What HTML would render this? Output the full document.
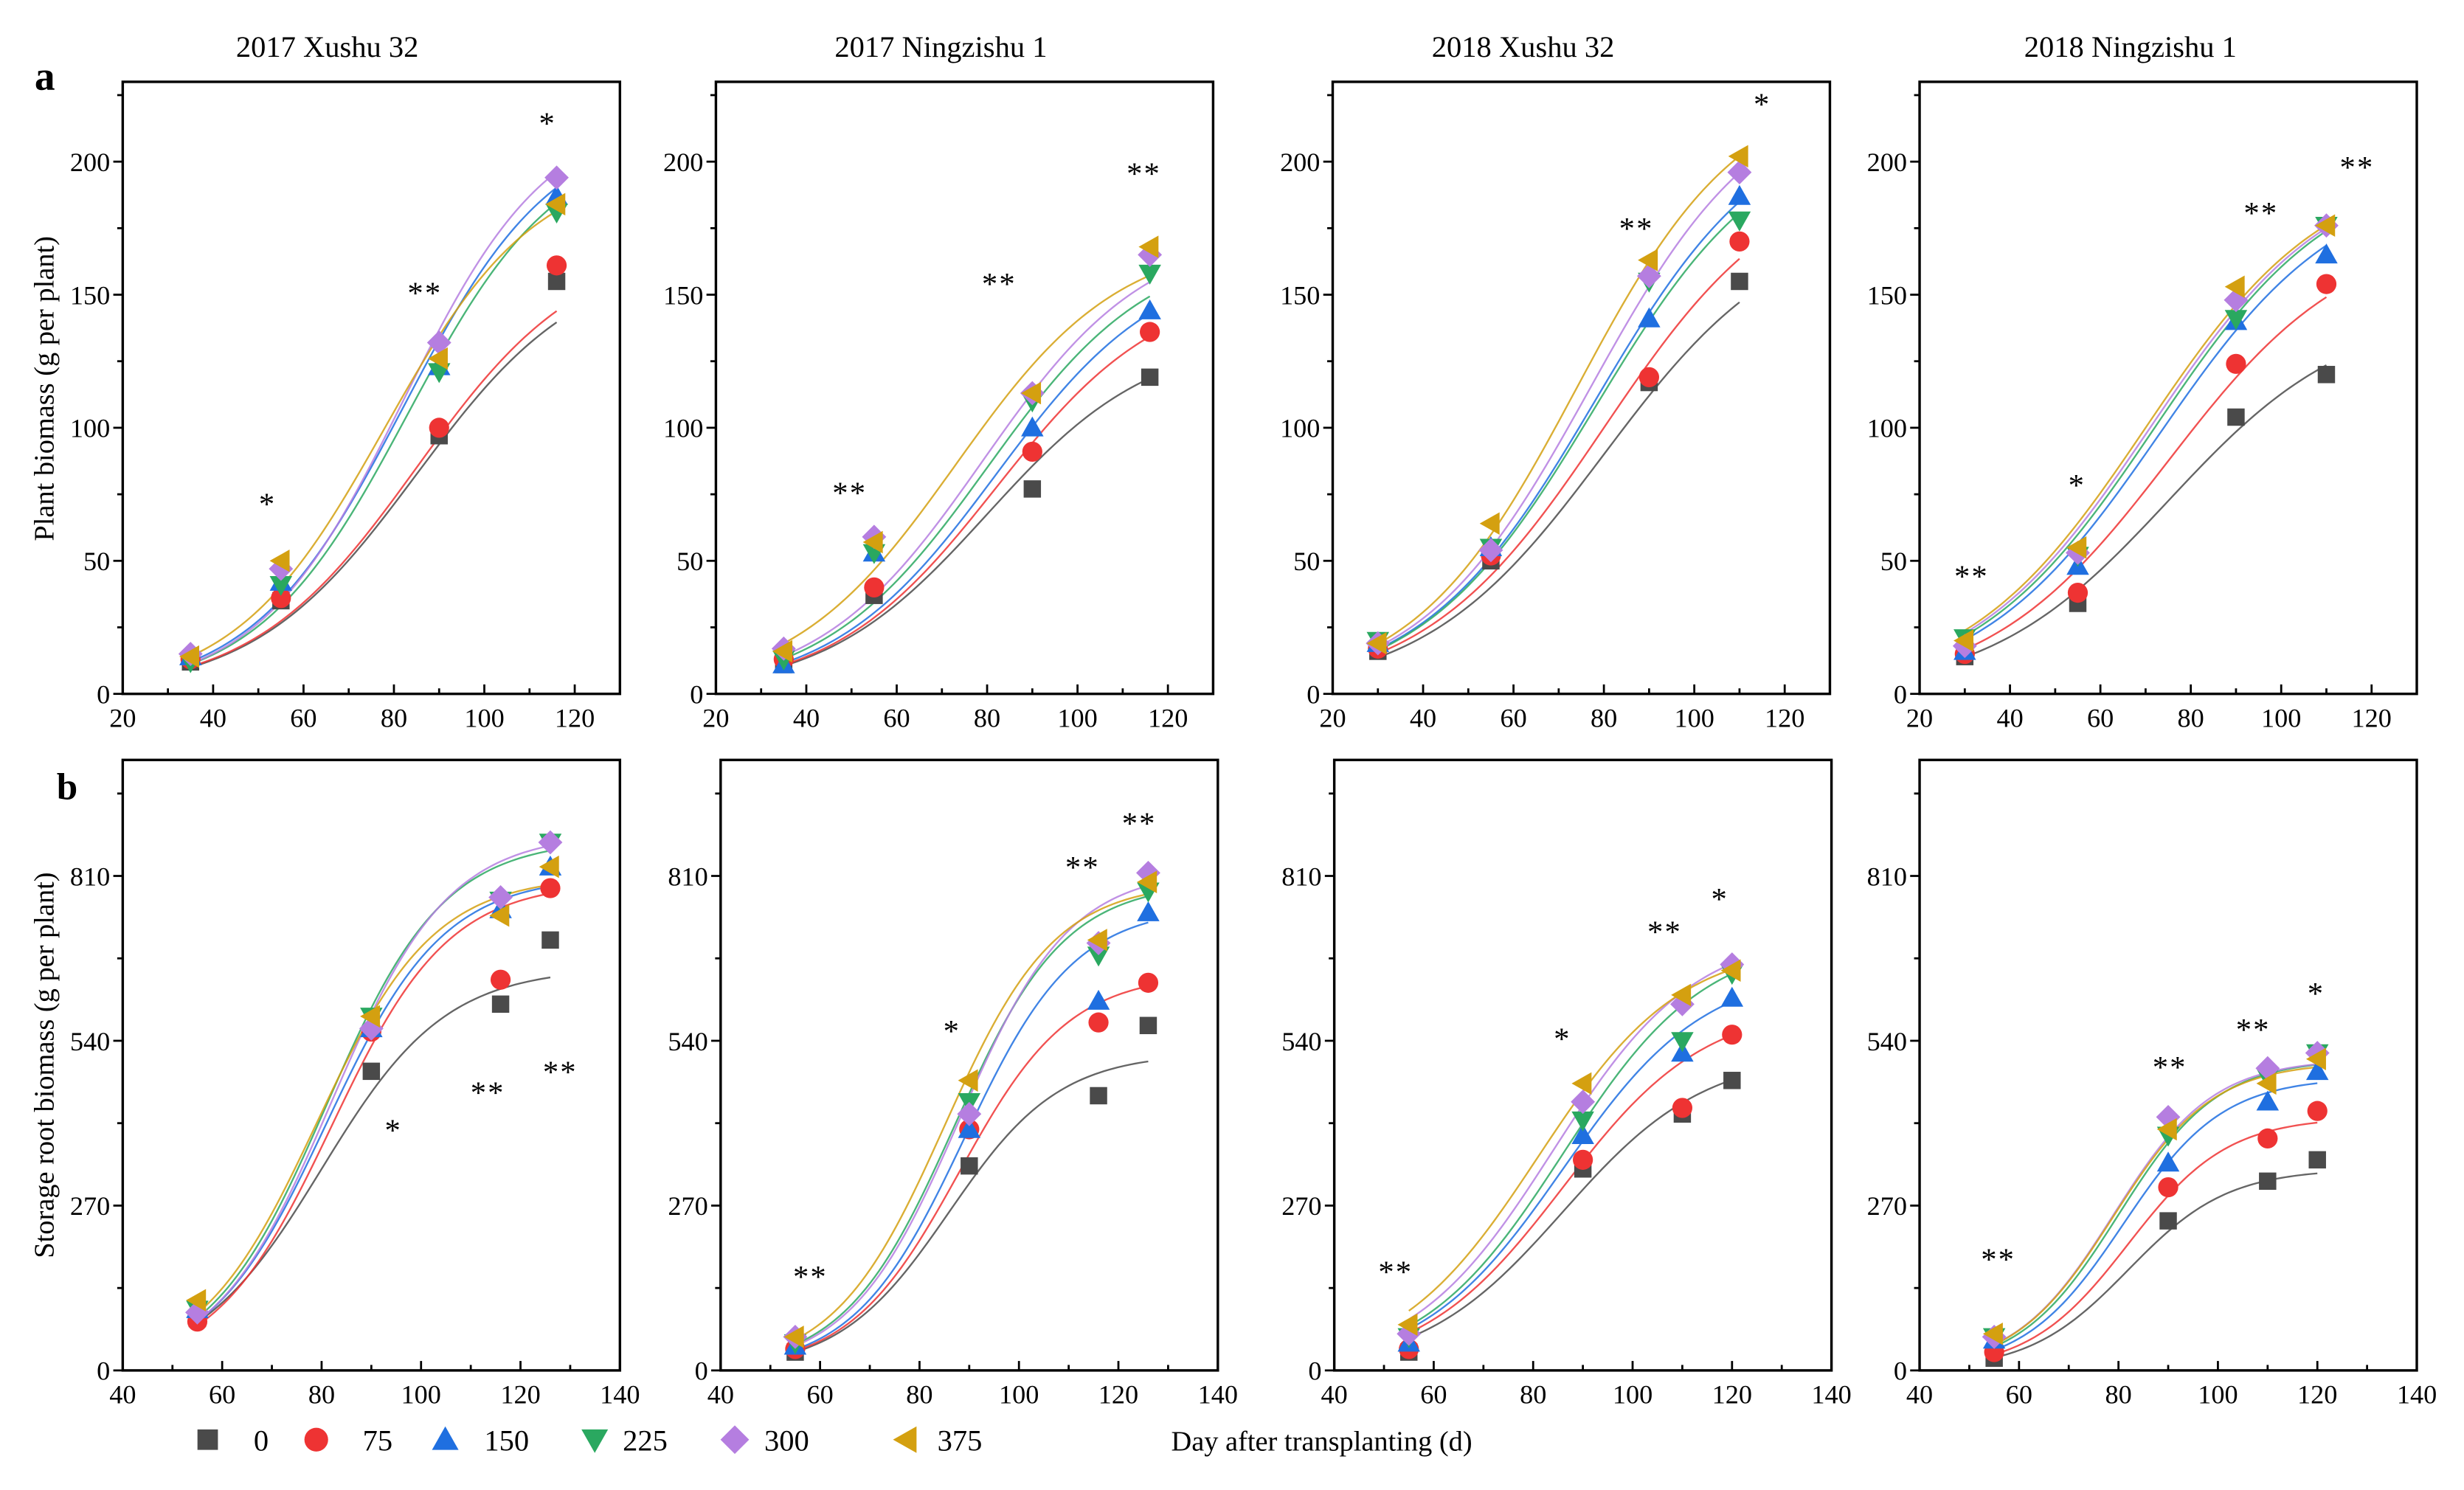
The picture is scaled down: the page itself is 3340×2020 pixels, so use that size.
<!DOCTYPE html>
<html><head><meta charset="utf-8"><style>
html,body{margin:0;padding:0;background:#fff;}
svg{display:block;font-family:"Liberation Serif",serif;}
</style></head><body>
<svg id="fig" width="3340" height="2020" viewBox="0 0 1566 947" preserveAspectRatio="none" xmlns="http://www.w3.org/2000/svg">
<rect x="0" y="0" width="1566" height="947" fill="#fff"/>
<text x="208" y="36" font-size="19" text-anchor="middle">2017  Xushu 32</text>
<text x="598" y="36" font-size="19" text-anchor="middle">2017  Ningzishu 1</text>
<text x="968" y="36" font-size="19" text-anchor="middle">2018  Xushu 32</text>
<text x="1354" y="36" font-size="19" text-anchor="middle">2018  Ningzishu 1</text>
<text x="22" y="57" font-size="26" font-weight="bold">a</text>
<text x="36" y="508" font-size="24" font-weight="bold">b</text>
<text transform="translate(34,247) rotate(-90)" font-size="18" text-anchor="middle">Plant biomass (g per plant)</text>
<text transform="translate(34,677) rotate(-90)" font-size="18" text-anchor="middle">Storage root biomass (g per plant)</text>
<text x="840" y="922" font-size="18" text-anchor="middle">Day after transplanting (d)</text>
<g id="plots"></g>
<g id="legend"></g>
</svg>
<script>
const seriesNames = ["0","75","150","225","300","375"];
const colors = ["#4a4a4a","#ee3333","#1f6fe0","#2aa860","#b57ee0","#d4a010"];
const shapes = ["square","circle","up","down","diamond","left"];

const daysP1 = [35,55,90,116];
const valsP1 = [[12,35,97,155],[13,36,100,161],[14,42,123,187],[12,41,121,181],[15,47,132,194],[14,50,126,184]];
const fitP1 = [[165,85,.055],[170,85,.055],[215,82,.06],[210,83,.06],[220,82,.062],[200,78,.06]];
const daysP2 = [35,55,90,116];
const valsP2 = [[11,37,77,119],[13,40,91,136],[11,53,100,144],[13,53,110,158],[17,59,113,165],[16,57,113,168]];
const fitP2 = [[135,80,.055],[155,82,.055],[165,82,.055],[170,80,.055],[175,79,.055],[172,73,.055]];
const daysP3 = [30,55,90,110];
const valsP3 = [[16,50,117,155],[17,52,119,170],[19,55,141,187],[20,55,155,178],[19,54,157,196],[19,64,163,202]];
const fitP3 = [[180,80,.05],[200,80,.05],[220,78,.052],[215,78,.052],[230,77,.053],[230,74,.055]];
const daysP4 = [30,55,90,110];
const valsP4 = [[14,34,104,120],[15,38,124,154],[16,48,140,165],[21,52,141,176],[18,53,148,176],[20,55,153,176]];
const fitP4 = [[145,75,.05],[175,75,.05],[195,73,.05],[200,72,.05],[200,71,.05],[200,70,.05]];
const daysB1 = [55,90,116,126];
const valsB1 = [[85,490,600,705],[80,555,640,790],[100,560,755,825],[100,580,770,865],[95,560,775,865],[115,580,745,825]];
const fitB1 = [[660,80,.08],[800,82,.085],[810,81,.085],[870,81,.085],[880,82,.085],[810,79,.085]];
const daysB2 = [55,90,116,126];
const valsB2 = [[30,335,450,565],[35,395,570,635],[40,395,605,750],[45,440,680,785],[55,420,700,815],[55,475,705,800]];
const fitB2 = [[520,86,.09],[650,88,.09],[760,89,.09],[800,87,.09],[820,88,.09],[800,85,.09]];
const daysB3 = [55,90,110,120];
const valsB3 = [[30,330,420,475],[35,345,430,550],[45,385,520,610],[55,410,540,650],[60,440,600,665],[75,470,615,655]];
const fitB3 = [[520,86,.07],[600,86,.07],[660,86,.07],[710,86,.07],[720,84,.07],[700,81,.07]];
const daysB4 = [55,90,110,120];
const valsB4 = [[20,245,310,345],[30,300,380,425],[50,340,440,490],[55,385,480,520],[55,415,495,520],[60,395,470,510]];
const fitB4 = [[330,82,.1],[415,82,.1],[480,81,.1],[510,80,.1],[510,79,.1],[505,79,.1]];

const topTicksY = [0,50,100,150,200];
const botTicksY = [0,270,540,810];
const topTicksX = [20,40,60,80,100,120];
const botTicksX = [40,60,80,100,120,140];

const panels = [
 {name:"p1",L:78,T:52,B:441,x0:20,x1:130,y1:230,days:daysP1,vals:valsP1,fit:fitP1,yt:topTicksY,xt:topTicksX,ym:25,xm:10,
  stars:[[170,327,"*"],[270,193,"**"],[348,85,"*"]]},
 {name:"p2",L:455,T:52,B:441,x0:20,x1:130,y1:230,days:daysP2,vals:valsP2,fit:fitP2,yt:topTicksY,xt:topTicksX,ym:25,xm:10,
  stars:[[540,320,"**"],[635,187,"**"],[727,117,"**"]]},
 {name:"p3",L:847,T:52,B:441,x0:20,x1:130,y1:230,days:daysP3,vals:valsP3,fit:fitP3,yt:topTicksY,xt:topTicksX,ym:25,xm:10,
  stars:[[1040,152,"**"],[1120,73,"*"]]},
 {name:"p4",L:1220,T:52,B:441,x0:20,x1:130,y1:230,days:daysP4,vals:valsP4,fit:fitP4,yt:topTicksY,xt:topTicksX,ym:25,xm:10,
  stars:[[1253,373,"**"],[1320,315,"*"],[1437,142,"**"],[1498,113,"**"]]},
 {name:"b1",L:78,T:483,B:871,x0:40,x1:140,y1:1000,days:daysB1,vals:valsB1,fit:fitB1,yt:botTicksY,xt:botTicksX,ym:135,xm:10,
  stars:[[250,725,"*"],[310,701,"**"],[356,688,"**"]]},
 {name:"b2",L:458,T:483,B:871,x0:40,x1:140,y1:1000,days:daysB2,vals:valsB2,fit:fitB2,yt:botTicksY,xt:botTicksX,ym:135,xm:10,
  stars:[[515,818,"**"],[605,662,"*"],[688,558,"**"],[724,530,"**"]]},
 {name:"b3",L:848,T:483,B:871,x0:40,x1:140,y1:1000,days:daysB3,vals:valsB3,fit:fitB3,yt:botTicksY,xt:botTicksX,ym:135,xm:10,
  stars:[[887,815,"**"],[993,667,"*"],[1058,599,"**"],[1093,578,"*"]]},
 {name:"b4",L:1220,T:483,B:871,x0:40,x1:140,y1:1000,days:daysB4,vals:valsB4,fit:fitB4,yt:botTicksY,xt:botTicksX,ym:135,xm:10,
  stars:[[1270,807,"**"],[1379,685,"**"],[1432,661,"**"],[1472,638,"*"]]}
];
const W = 316;
const NS = "http://www.w3.org/2000/svg";
const root = document.getElementById("plots");
function mk(tag, attrs, parent){const e=document.createElementNS(NS,tag);for(const k in attrs)e.setAttribute(k,attrs[k]);parent.appendChild(e);return e;}
function marker(shape,cx,cy,s,col,parent){
  let e;
  if(shape==="square") e=mk("rect",{x:cx-s*0.5,y:cy-s*0.5,width:s,height:s,fill:col},parent);
  else if(shape==="circle") e=mk("circle",{cx:cx,cy:cy,r:s*0.58,fill:col},parent);
  else { let pts;
    if(shape==="up") pts=[[cx,cy-s*0.65],[cx+s*0.65,cy+s*0.5],[cx-s*0.65,cy+s*0.5]];
    else if(shape==="down") pts=[[cx,cy+s*0.65],[cx+s*0.65,cy-s*0.5],[cx-s*0.65,cy-s*0.5]];
    else if(shape==="diamond") pts=[[cx,cy-s*0.7],[cx+s*0.7,cy],[cx,cy+s*0.7],[cx-s*0.7,cy]];
    else pts=[[cx-s*0.65,cy],[cx+s*0.5,cy-s*0.65],[cx+s*0.5,cy+s*0.65]];
    e=mk("polygon",{points:pts.map(p=>p.join(",")).join(" "),fill:col},parent);}
  return e;
}
panels.forEach(p=>{
  const g=mk("g",{},root);
  
  
  const sx=v=>p.L+(v-p.x0)/(p.x1-p.x0)*W;
  const sy=v=>p.B-v/p.y1*(p.B-p.T);
  for(let v=0; v<=p.y1; v+=p.ym){
    const major=p.yt.includes(v);
    mk("line",{x1:p.L-(major?6:3.5),x2:p.L,y1:sy(v),y2:sy(v),stroke:"#000","stroke-width":1.3},g);
  }
  p.yt.forEach(v=>{const t=mk("text",{x:p.L-8,y:sy(v)+6,"font-size":17,"text-anchor":"end"},g);t.textContent=v;
    
    });
  for(let v=p.x0; v<=p.x1; v+=p.xm){
    const major=p.xt.includes(v);
    mk("line",{x1:sx(v),x2:sx(v),y1:p.B,y2:p.B-(major?6:3.5),stroke:"#000","stroke-width":1.3},g);
  }
  p.xt.forEach(v=>{const t=mk("text",{x:sx(v),y:p.B+21,"font-size":17,"text-anchor":"middle"},g);t.textContent=v;
    
    });
  p.fit.forEach((f,i)=>{
    const d0=p.days[0], d1=p.days[p.days.length-1];
    let d="";
    for(let k=0;k<=80;k++){const t=d0+(d1-d0)*k/80;const y=f[0]/(1+Math.exp(-f[2]*(t-f[1])));
      d+=(k?"L":"M")+sx(t).toFixed(2)+","+sy(y).toFixed(2);}
    const c=mk("path",{d:d,fill:"none",stroke:colors[i],"stroke-width":1.1,opacity:0.85},g);
    
    
  });
  p.vals.forEach((vals,i)=>{
    vals.forEach((v,j)=>{
      const m=marker(shapes[i],sx(p.days[j]),sy(v),11,colors[i],g);
      
      
    });
  });
  p.stars.forEach(s=>{const t=mk("text",{x:s[0],y:s[1],"font-size":20,"text-anchor":"middle","letter-spacing":"1"},g);t.textContent=s[2];
    
    });
  const fr=mk("rect",{x:p.L,y:p.T,width:W,height:p.B-p.T,fill:"none",stroke:"#000","stroke-width":1.6},g);
  
  
});
const lg=document.getElementById("legend");
const legMX=[132,201,283,378,467,576];
const legTX=[166,240,322,410,500,610];
seriesNames.forEach((n,i)=>{
  const m=marker(shapes[i],legMX[i],915,13,colors[i],lg);
  
  
  const t=mk("text",{x:legTX[i],y:922,"font-size":19,"text-anchor":"middle"},lg);t.textContent=n;
  
  
});
</script>
</body></html>
